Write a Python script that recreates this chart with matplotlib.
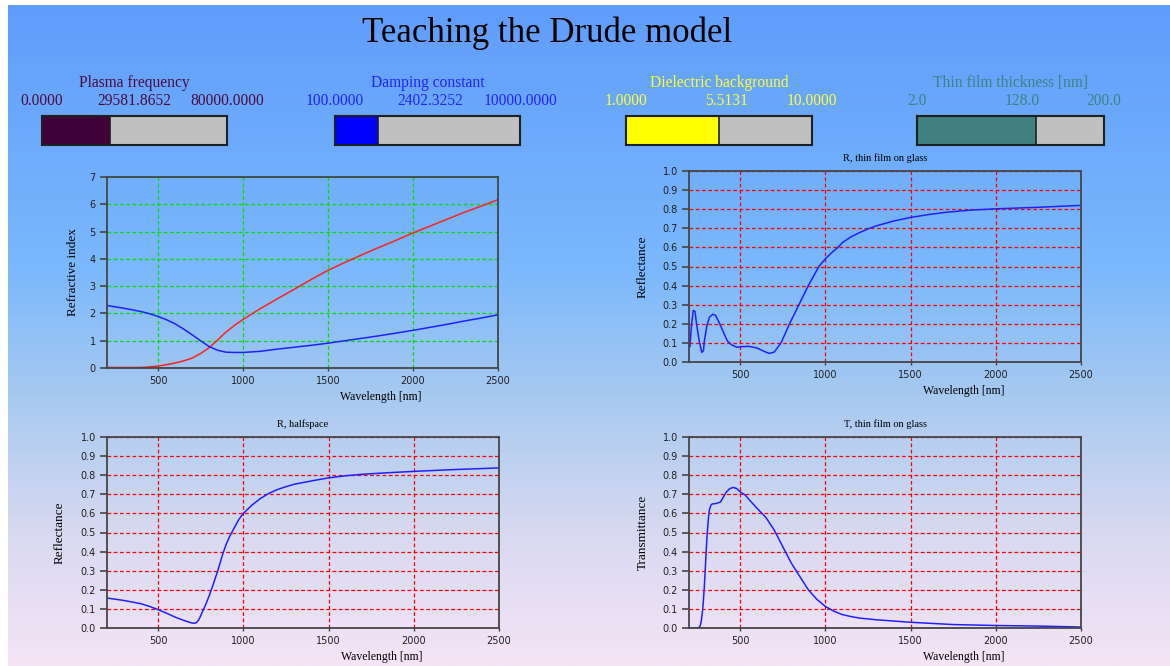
import matplotlib
matplotlib.use('Agg')
import matplotlib.pyplot as plt
from matplotlib.colors import LinearSegmentedColormap
import numpy as np

# --- slider settings -------------------------------------------------------
slider_names = ['Plasma frequency', 'Damping constant', 'Dielectric background',
                'Thin film thickness [nm]']
slider_min = [0.0, 100.0, 1.0, 2.0]
slider_val = [29581.8652, 2402.3252, 5.5131, 128.0]
slider_max = [80000.0, 10000.0, 10.0, 200.0]
slider_fmt = ['%.4f', '%.4f', '%.4f', '%.1f']
slider_fill = ['#400038', '#0000ff', '#ffff00', '#408080']
slider_text = ['#4c0a3c', '#2222ff', '#ffff30', '#3f8282']

# --- refractive index (n, k) -----------------------------------------------
wl_nk = [200, 300, 400, 450, 500, 550, 600, 650, 700, 750, 800, 850, 900, 950,
         1000, 1100, 1200, 1300, 1400, 1500, 1600, 1700, 1800, 1900, 2000,
         2100, 2200, 2300, 2400, 2500]
k_vals = [0.02, 0.02, 0.02, 0.04, 0.07, 0.12, 0.18, 0.26, 0.36, 0.53, 0.74,
          1.02, 1.32, 1.56, 1.78, 2.17, 2.53, 2.88, 3.24, 3.58, 3.87, 4.15,
          4.42, 4.68, 4.95, 5.20, 5.45, 5.70, 5.93, 6.17]
n_vals = [2.29, 2.19, 2.07, 1.99, 1.89, 1.77, 1.62, 1.43, 1.22, 1.00, 0.79,
          0.65, 0.58, 0.57, 0.57, 0.61, 0.69, 0.76, 0.83, 0.91, 1.00, 1.09,
          1.18, 1.28, 1.38, 1.49, 1.60, 1.72, 1.83, 1.95]

# --- R, thin film on glass -------------------------------------------------
wl_rf = [200, 205, 215, 225, 235, 245, 260, 275, 285, 290, 305, 320, 340, 355,
         375, 400, 425, 450, 480, 500, 550, 600, 640, 670, 700, 740, 790, 845,
         900, 962, 1000, 1040, 1074, 1100, 1150, 1200, 1250, 1300, 1400, 1500,
         1600, 1700, 1850, 2000, 2250, 2500]
r_film = [0.09, 0.08, 0.195, 0.27, 0.265, 0.195, 0.11, 0.05, 0.06, 0.11, 0.19,
          0.235, 0.25, 0.245, 0.21, 0.16, 0.11, 0.09, 0.077, 0.08, 0.082,
          0.073, 0.056, 0.045, 0.052, 0.10, 0.20, 0.30, 0.40, 0.50, 0.54,
          0.575, 0.60, 0.625, 0.655, 0.677, 0.697, 0.713, 0.738, 0.757, 0.771,
          0.783, 0.795, 0.802, 0.81, 0.82]

# --- R, halfspace ----------------------------------------------------------
wl_rh = [200, 300, 400, 450, 500, 550, 600, 650, 680, 700, 710, 725, 740, 760,
         780, 800, 820, 850, 880, 900, 920, 950, 975, 1000, 1050, 1100, 1150,
         1200, 1250, 1300, 1400, 1500, 1600, 1700, 1850, 2000, 2250, 2500]
r_half = [0.157, 0.144, 0.127, 0.113, 0.096, 0.077, 0.057, 0.04, 0.031,
          0.026, 0.025, 0.028, 0.045, 0.085, 0.125, 0.17, 0.22, 0.30, 0.39,
          0.44, 0.48, 0.53, 0.57, 0.60, 0.643, 0.678, 0.705, 0.725, 0.74,
          0.753, 0.77, 0.786, 0.797, 0.805, 0.813, 0.82, 0.83, 0.838]

# --- T, thin film on glass -------------------------------------------------
wl_t = [200, 255, 265, 272, 280, 285, 290, 295, 300, 305, 310, 315, 320, 328,
        335, 360, 385, 400, 420, 440, 460, 480, 500, 530, 560, 600, 650, 700,
        750, 800, 850, 900, 950, 1000, 1050, 1100, 1150, 1200, 1300, 1500,
        1750, 2000, 2250, 2500]
t_film = [0.0, 0.0, 0.01, 0.035, 0.095, 0.15, 0.217, 0.30, 0.39, 0.47, 0.53,
          0.585, 0.62, 0.642, 0.649, 0.652, 0.66, 0.683, 0.713, 0.73, 0.736,
          0.73, 0.713, 0.696, 0.665, 0.626, 0.58, 0.513, 0.426, 0.34, 0.27,
          0.20, 0.15, 0.113, 0.088, 0.07, 0.06, 0.052, 0.043, 0.03, 0.018,
          0.013, 0.01, 0.005]

x_ticks = [500, 1000, 1500, 2000, 2500]

W, H = 1170, 666


def rect(left, top, right, bottom):
    return [left / W, 1 - bottom / H, (right - left) / W, (bottom - top) / H]


fig = plt.figure(figsize=(W / 100, H / 100), dpi=100, facecolor='white')

# background gradient, with a thin white margin on top/left
bg = fig.add_axes(rect(8, 5, W, H), zorder=-5)
cmap = LinearSegmentedColormap.from_list(
    'bg', [(0.0, '#5f9dfd'), (0.4, '#7bb8fc'), (0.6, '#a9caf0'),
           (0.8, '#d8d9f1'), (1.0, '#f5e4f6')])
bg.imshow(np.linspace(0, 1, 256).reshape(-1, 1), cmap=cmap, aspect='auto',
          extent=[0, 1, 0, 1], origin='upper')
bg.axis('off')

fig.text(547 / W, 1 - 33 / H, 'Teaching the Drude model', ha='center',
         va='center', fontsize=25, family='Liberation Serif', color='black')

# sliders
bar_left = [42, 335, 626, 917]
bar_width = [185, 185, 186, 187]
mid_shift = [0, 3, 8, 12]
for i in range(4):
    l, w = bar_left[i], bar_width[i]
    sax = fig.add_axes(rect(l, 116, l + w, 145))
    sax.set_facecolor('#c0c0c0')
    sax.barh(0, slider_val[i] - slider_min[i], left=slider_min[i], height=1,
             color=slider_fill[i], edgecolor='#202020', linewidth=1.2)
    sax.set_xlim(slider_min[i], slider_max[i])
    sax.set_ylim(-0.5, 0.5)
    sax.set_xticks([])
    sax.set_yticks([])
    for s in sax.spines.values():
        s.set_color('#202020')
        s.set_linewidth(1.5)
    c = slider_text[i]
    kw = dict(va='center', fontsize=11.2, family='Liberation Serif', color=c)
    fig.text((l + w / 2) / W, 1 - 83 / H, slider_names[i], ha='center', **kw)
    fig.text(l / W, 1 - 101 / H, slider_fmt[i] % slider_min[i], ha='center', **kw)
    fig.text((l + w / 2 + mid_shift[i]) / W, 1 - 101 / H,
             slider_fmt[i] % slider_val[i], ha='center', **kw)
    fig.text((l + w) / W, 1 - 101 / H, slider_fmt[i] % slider_max[i],
             ha='center', **kw)


def style_axes(ax, grid_color, ylim, yticks, yfmt, ylabel, ylab_x, title=None):
    ax.set_facecolor('none')
    ax.set_xlim(200, 2500)
    ax.set_ylim(*ylim)
    ax.set_xticks(x_ticks)
    ax.set_yticks(yticks)
    ax.set_yticklabels([yfmt % v for v in yticks])
    ax.grid(True, color=grid_color, linestyle=(0, (3, 2)), linewidth=0.9)
    ax.set_axisbelow(True)
    for s in ax.spines.values():
        s.set_color('#454545')
        s.set_linewidth(1.3)
    ax.tick_params(axis='y', length=5, width=1.2, color='#454545', pad=3,
                   labelsize=7, labelcolor='#202020')
    ax.tick_params(axis='x', length=2, width=1.0, color='#454545', pad=4,
                   labelsize=7, labelcolor='#202020')
    for lab in ax.get_xticklabels() + ax.get_yticklabels():
        lab.set_family('DejaVu Sans')
    ax.set_xlabel('Wavelength [nm]', fontsize=8.5, family='Liberation Serif')
    ax.xaxis.set_label_coords(0.70, -0.12)
    ax.set_ylabel(ylabel, fontsize=9.5, family='Liberation Serif')
    ax.yaxis.set_label_coords(ylab_x, 0.5)
    if title:
        ax.set_title(title, fontsize=7.5, family='Liberation Serif', pad=7)


r_ticks = [round(0.1 * i, 1) for i in range(11)]

ax1 = fig.add_axes(rect(107, 177, 498, 368))
style_axes(ax1, '#00e000', (0, 7), list(range(8)), '%d', 'Refractive index',
           -0.072)
ax1.plot(wl_nk, k_vals, color='#ff2020', linewidth=1.1)
ax1.plot(wl_nk, n_vals, color='#2020ff', linewidth=1.1)

ax2 = fig.add_axes(rect(689, 171, 1081, 362))
style_axes(ax2, '#ff0000', (0, 1), r_ticks, '%.1f', 'Reflectance', -0.102,
           'R, thin film on glass')
ax2.plot(wl_rf, r_film, color='#2020ff', linewidth=1.1)

ax3 = fig.add_axes(rect(107, 437, 499, 628))
style_axes(ax3, '#ff0000', (0, 1), r_ticks, '%.1f', 'Reflectance', -0.105,
           'R, halfspace')
ax3.plot(wl_rh, r_half, color='#2020ff', linewidth=1.1)

ax4 = fig.add_axes(rect(689, 437, 1081, 628))
style_axes(ax4, '#ff0000', (0, 1), r_ticks, '%.1f', 'Transmittance', -0.102,
           'T, thin film on glass')
ax4.plot(wl_t, t_film, color='#2020ff', linewidth=1.1)

fig.savefig('out.png', dpi=100, facecolor='white')
